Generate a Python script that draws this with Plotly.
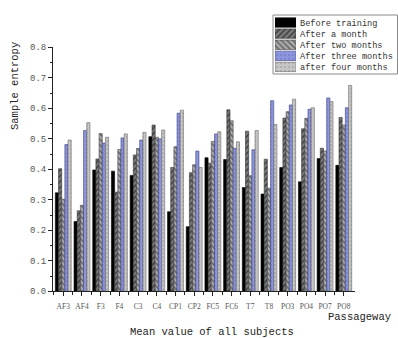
import numpy as np
import plotly.graph_objects as go

# Channels (x categories)
channels = ["AF3", "AF4", "F3", "F4", "C3", "C4", "CP1", "CP2",
            "FC5", "FC6", "T7", "T8", "PO3", "PO4", "PO7", "PO8"]

# Series names
series_names = ["Before training", "After a month", "After two months",
                "After three months", "after four months"]

# Sample entropy, mean value of all subjects
before_training = [0.323, 0.229, 0.398, 0.394, 0.380, 0.507, 0.261, 0.212,
                   0.438, 0.432, 0.340, 0.319, 0.406, 0.359, 0.435, 0.413]
after_one_month = [0.402, 0.264, 0.434, 0.325, 0.447, 0.545, 0.406, 0.389,
                   0.420, 0.595, 0.525, 0.433, 0.568, 0.533, 0.469, 0.570]
after_two_months = [0.302, 0.282, 0.517, 0.465, 0.468, 0.505, 0.474, 0.415,
                    0.491, 0.559, 0.379, 0.338, 0.589, 0.567, 0.460, 0.545]
after_three_months = [0.481, 0.527, 0.486, 0.503, 0.496, 0.500, 0.584, 0.460,
                      0.516, 0.469, 0.464, 0.625, 0.611, 0.597, 0.634, 0.602]
after_four_months = [0.496, 0.553, 0.505, 0.516, 0.521, 0.529, 0.594, 0.406,
                     0.523, 0.490, 0.527, 0.547, 0.630, 0.602, 0.622, 0.675]

series_values = [before_training, after_one_month, after_two_months,
                 after_three_months, after_four_months]

# Fill styles: background colour, pattern shape, pattern colour, density
bg_colors = ["#000000", "#7a7a7a", "#ababab", "#8d95dc", "#c6c6c6"]
pattern_shapes = ["", "/", "\\", ".", "."]
fg_colors = ["#000000", "#3a3a3a", "#5e5e5e", "#7880cc", "#a8a8a8"]
pattern_solidity = [0.35, 0.35, 0.35, 0.2, 0.2]
edge_colors = ["#000000", "#333333", "#444444", "#3a3f80", "#666666"]

W, H = 398, 338


def px_x(p):
    return p / W


def px_y(p):
    return (H - p) / H


xpos = np.arange(len(channels))

fig = go.Figure()
for name, vals, bg, shp, fg, sol, ec in zip(series_names, series_values, bg_colors,
                                            pattern_shapes, fg_colors,
                                            pattern_solidity, edge_colors):
    style = dict(
        color=bg,
        line=dict(color=ec, width=0.6),
        pattern=dict(shape=shp, bgcolor=bg, fgcolor=fg, size=4, solidity=sol),
    )
    fig.add_trace(go.Bar(x=xpos, y=vals, name=name, showlegend=False, marker=style))
    # Key swatch for this series, drawn in the legend panel axes
    fig.add_trace(go.Bar(
        x=[1], y=[name], orientation="h", xaxis="x2", yaxis="y2",
        offsetgroup="key", showlegend=False, hoverinfo="skip", marker=style,
    ))

mono = "Liberation Mono"
serif = "Liberation Serif"

fig.update_layout(
    width=W, height=H,
    margin=dict(l=0, r=0, t=0, b=0),
    template="none",
    paper_bgcolor="white",
    plot_bgcolor="white",
    barmode="group",
    bargap=0.15,
    bargroupgap=0.0,
    showlegend=False,
    xaxis=dict(
        domain=[px_x(53), px_x(355)],
        range=[-0.55, 15.6],
        tickmode="array", tickvals=xpos, ticktext=channels,
        tickfont=dict(family=serif, size=7.5, color="#555555"),
        ticklabelstandoff=4,
        showline=True, linecolor="#222222", linewidth=1,
        ticks="outside", ticklen=4, tickcolor="#222222",
        minor=dict(tickmode="array", tickvals=list(xpos[:-1] + 0.5) + [-0.5],
                   ticks="outside", ticklen=2.5, tickcolor="#222222"),
        showgrid=False, zeroline=False, automargin=False,
        anchor="y",
    ),
    yaxis=dict(
        domain=[px_y(291.3), px_y(47.3)],
        range=[0, 0.8], dtick=0.1, tickformat=".1f",
        tickfont=dict(family=mono, size=9, color="#555555"),
        showline=True, linecolor="#222222", linewidth=1,
        ticks="outside", ticklen=4, tickcolor="#222222",
        minor=dict(dtick=0.05, ticks="outside", ticklen=2.5, tickcolor="#222222"),
        showgrid=False, zeroline=False, automargin=False,
        anchor="x",
    ),
    xaxis2=dict(
        domain=[px_x(275), px_x(296)], range=[0, 1], visible=False,
        anchor="y2", fixedrange=True,
    ),
    yaxis2=dict(
        domain=[px_y(72.5), px_y(17)], type="category",
        categoryorder="array", categoryarray=series_names,
        autorange="reversed", side="right", anchor="x2",
        showline=False, showgrid=False, zeroline=False, ticks="",
        ticklabelstandoff=3,
        tickfont=dict(family=mono, size=8.6, color="#333333"),
        automargin=False, fixedrange=True,
    ),
    shapes=[dict(
        type="rect", xref="paper", yref="paper",
        x0=px_x(273), x1=px_x(397.5), y0=px_y(74), y1=px_y(15),
        line=dict(color="#8a8a8a", width=1), fillcolor="rgba(0,0,0,0)",
        layer="below",
    )],
    annotations=[
        dict(text="Sample entropy", xref="paper", yref="paper",
             x=px_x(15), y=px_y(86), textangle=-90, showarrow=False,
             xanchor="center", yanchor="middle",
             font=dict(family=mono, size=10.5, color="#222222")),
        dict(text="Passageway", xref="paper", yref="paper",
             x=px_x(359), y=px_y(317), showarrow=False,
             xanchor="center", yanchor="middle",
             font=dict(family=mono, size=10.5, color="#222222")),
        dict(text="Mean value of all subjects", xref="paper", yref="paper",
             x=px_x(212), y=px_y(332), showarrow=False,
             xanchor="center", yanchor="middle",
             font=dict(family=mono, size=10.5, color="#222222")),
    ],
)

fig.write_html("out.html")
